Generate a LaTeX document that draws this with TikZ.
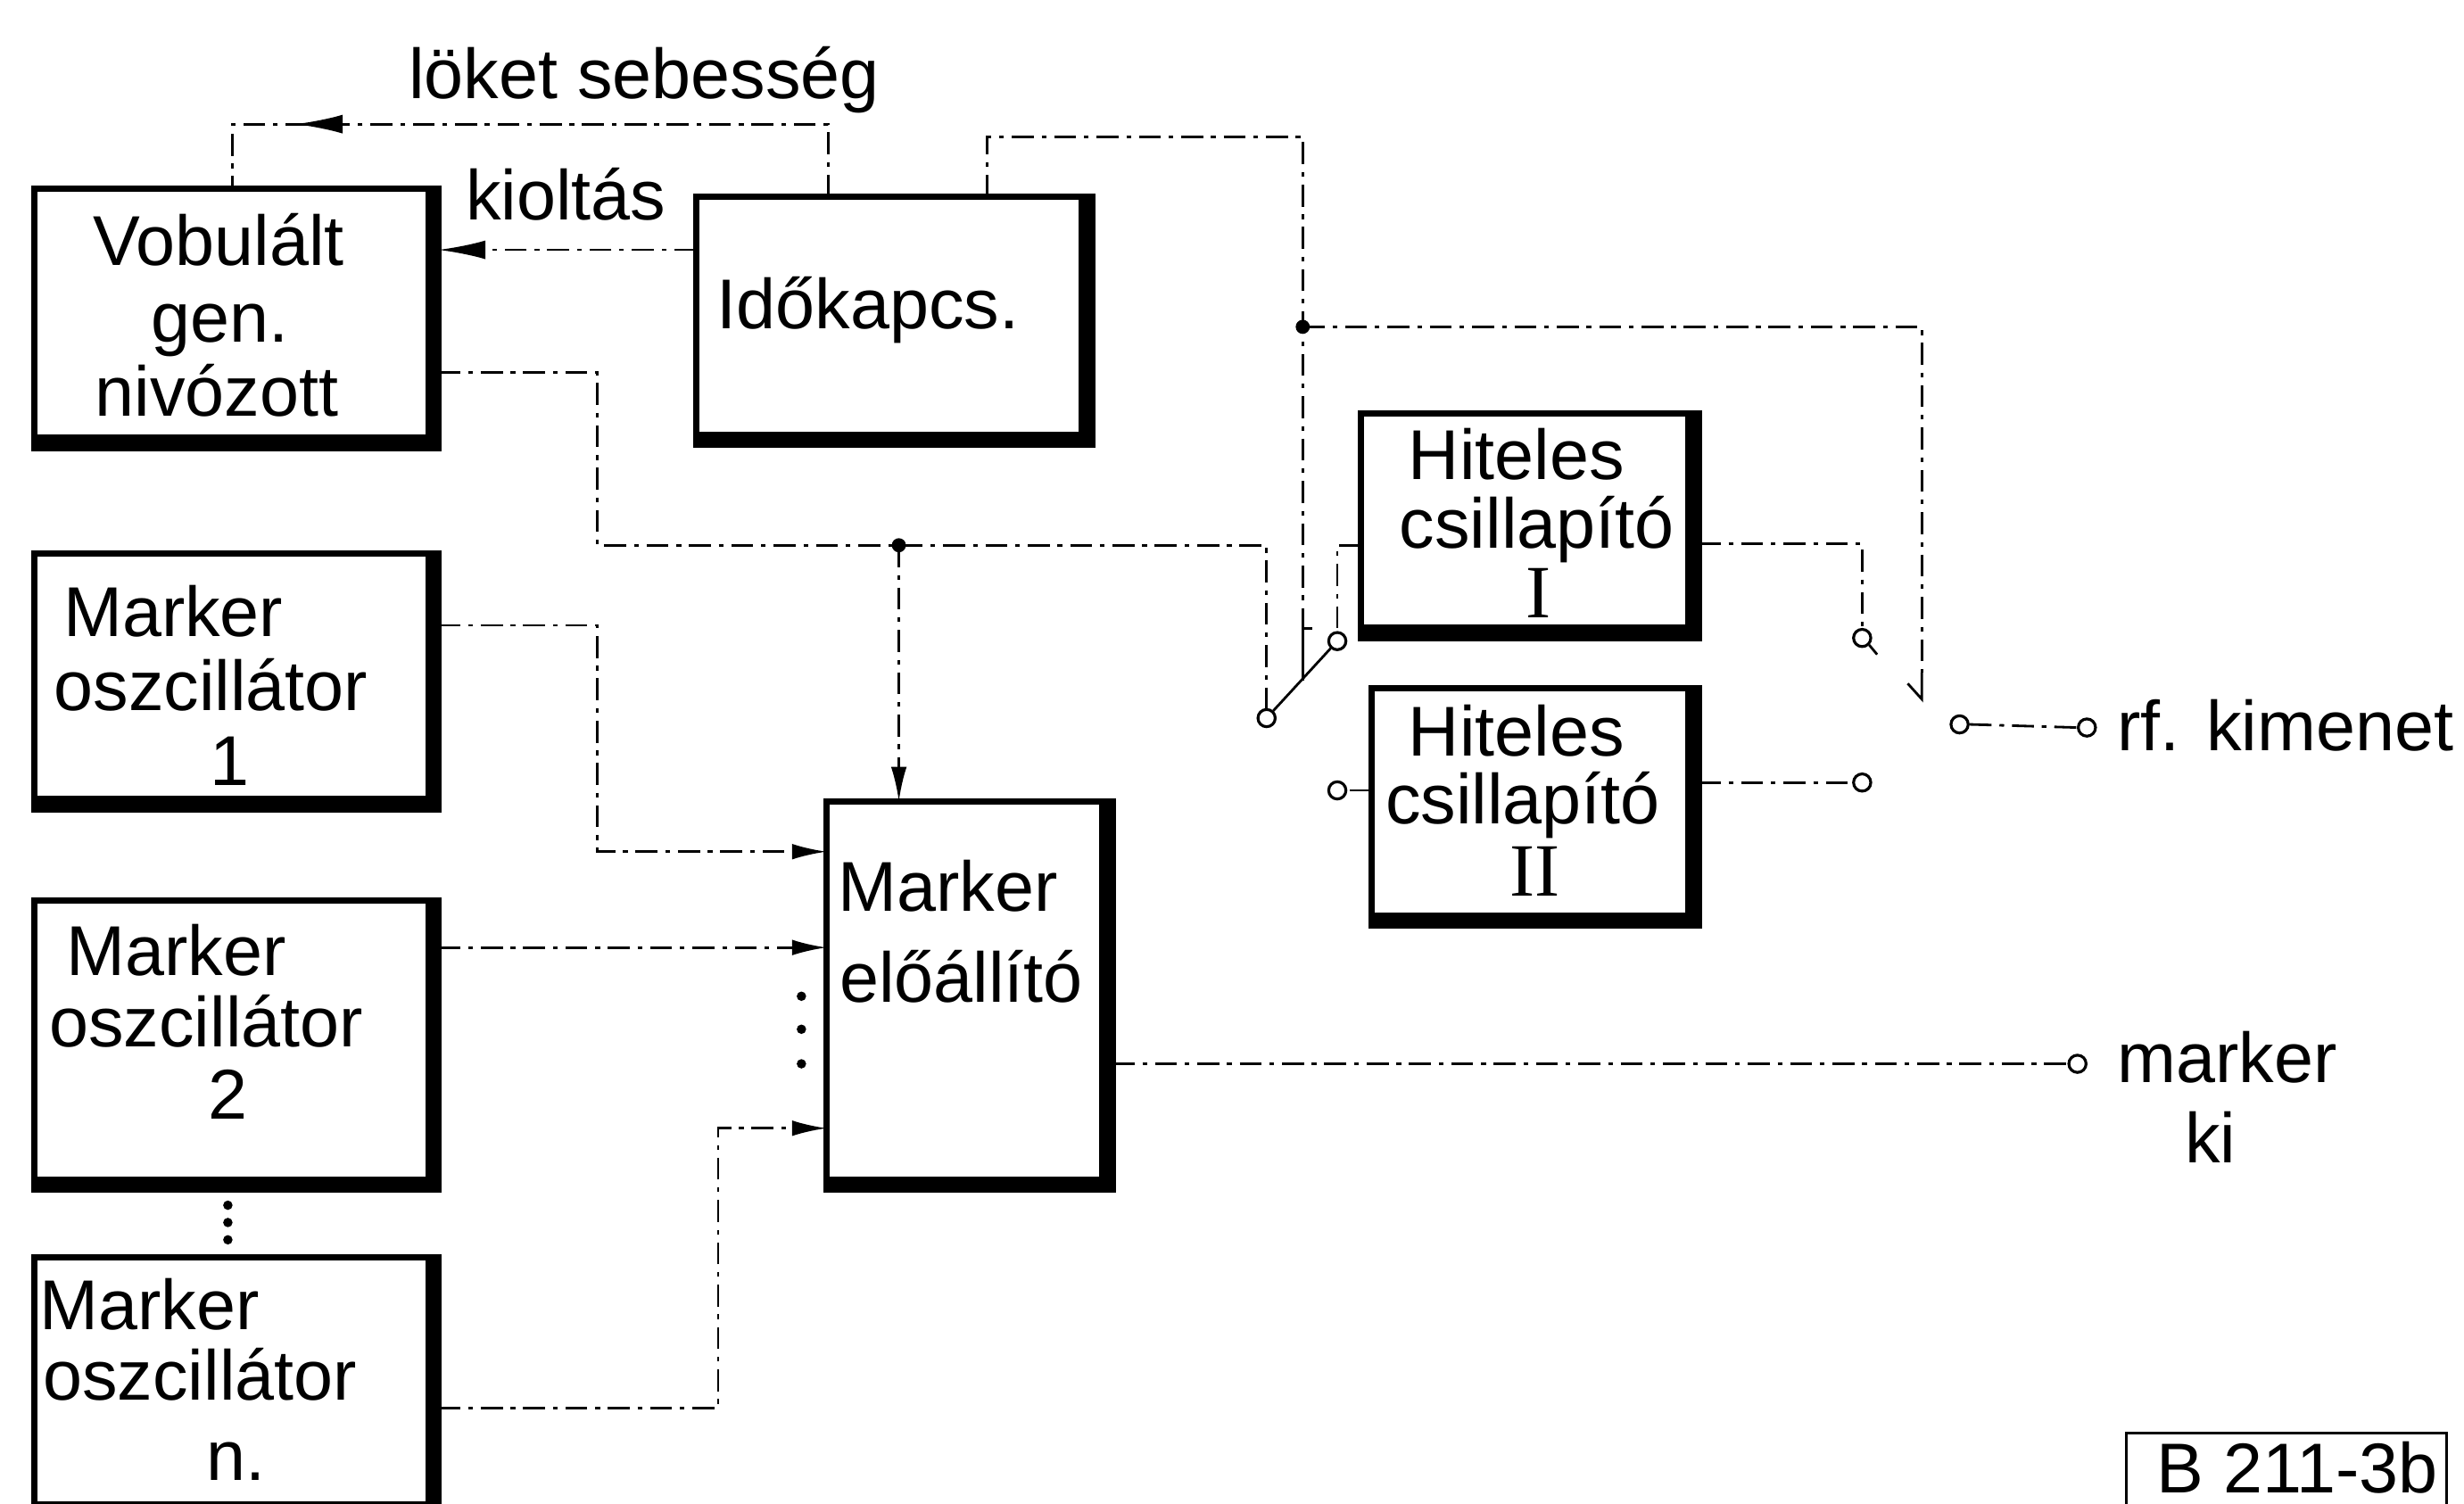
\documentclass[tikz,border=0pt]{standalone}
\usepackage{fontspec}
\setmainfont{Liberation Sans}
\newfontfamily\romfont{Liberation Serif}
\usetikzlibrary{arrows.meta,decorations.markings,fit}
\begin{document}
\begin{tikzpicture}[x=0.017615cm,y=-0.017615cm,
  blk/.style={draw,line width=2pt,rectangle,inner sep=0pt,outer sep=0pt,
    path picture={\draw[line width=8.5pt] (path picture bounding box.north east) -- (path picture bounding box.south east) -- (path picture bounding box.south west);}},
  txt/.style={font=\fontsize{22.5}{24}\selectfont,inner sep=0pt,anchor=base},
  txtl/.style={txt,anchor=base west},
  rom/.style={txt,font=\romfont\fontsize{24}{24}\selectfont},
  conn/.style={line width=0.8pt,dash pattern=on 7pt off 2.5pt on 1.5pt off 2.5pt},
  arr/.style={-{Latex[length=11pt,width=5pt]}},
  bigarr/.style={-{Latex[length=15pt,width=6pt]}},
  term/.style={circle,draw,line width=0.9pt,minimum size=5.5pt,inner sep=0pt,fill=white},
  jdot/.style={circle,fill,minimum size=4.5pt,inner sep=0pt},
  sdot/.style={circle,fill,minimum size=3pt,inner sep=0pt},
  solidln/.style={line width=0.8pt}
]
\fill[white] (0,0) rectangle (1568,957);
\useasboundingbox (0,0) rectangle (1568,957);

% boxes
\node[blk, fit={(22,120) (279,285)}] (vob) {};
\node[blk, fit={(443,125) (695,283)}] (ido) {};
\node[blk, fit={(22,352) (279,515)}] (mo1) {};
\node[blk, fit={(22,573) (279,757)}] (mo2) {};
\node[blk, fit={(22,800) (279,964)}] (mon) {};
\node[blk, fit={(526,510) (708,757)}] (me) {};
\node[blk, fit={(866,263) (1081,406)}] (h1) {};
\node[blk, fit={(873,438) (1081,589)}] (h2) {};

% box texts
\node[txt] (vobA) at (139,169) {Vobulált};
\node[txt] (vobB) at (140,218) {gen.};
\node[txt] (vobC) at (138,265) {nivózott};
\node[txtl] (idoA) at (456,209) {Időkapcs.};
\node[txtl] (mo1A) at (40,405) {Marker};
\node[txtl] (mo1B) at (34,452) {oszcillátor};
\node[txt] (mo1C) at (146,500) {1};
\node[txtl] (mo2A) at (42,621) {Marker};
\node[txtl] (mo2B) at (31,666) {oszcillátor};
\node[txt] (mo2C) at (145,712) {2};
\node[txtl] (monA) at (25,846) {Marker};
\node[txtl] (monB) at (27,891) {oszcillátor};
\node[txt] (monC) at (150,942) {n.};
\node[txtl] (meA) at (533,580) {Marker};
\node[txtl] (meB) at (534,638) {előállító};
\node[txt] (h1A) at (965,305) {Hiteles};
\node[txt] (h1B) at (978,349) {csillapító};
\node[rom] (h1C) at (979,393) {I};
\node[txt] (h2A) at (965,481) {Hiteles};
\node[txt] (h2B) at (969,524) {csillapító};
\node[rom] (h2C) at (977,570) {II};

% free labels
\node[txt] (lok) at (410,63) {löket sebesség};
\node[txt] (kio) at (360,140) {kioltás};

% junctions and contacts
\node[jdot] (j1) at (572,347) {};
\node[jdot] (j2) at (829,208) {};
\node[term] (cA) at (806,457) {};
\node[term] (cB) at (851,408) {};
\node[term] (cC) at (851,503) {};
\node[term] (cD) at (1185,406) {};
\node[term] (cE) at (1185,498) {};
\node[term] (cF) at (1247,461) {};
\node[term] (trf) at (1328,463) {};
\node[term] (tmk) at (1322,677) {};
\node[txtl] (rfk) at (1347,478) {rf. kimenet};
\node[txtl] (mkA) at (1347,689) {marker};
\node[txtl] (mkB) at (1390,740) {ki};

% kioltas
\draw[conn,bigarr] (ido.west |- 0,159) -- (vob.east |- 0,159);
% loket sebesseg
\draw[conn,postaction={decorate},decoration={markings,mark=at position 0.826 with {\arrow[solid]{Latex[length=15pt,width=6pt]}}}]
  (ido.north -| 527,0) |- (148,79) -- (vob.north -| 148,0);
% idokapcs to switches
\draw[conn] (ido.north -| 628,0) |- (829,87) -- (j2.center) -- (829,400);
\draw[solidln] (835,400) -- (829,400) -- (829,433);
\draw[conn] (j2.center) -| (1223,428);
\draw[solidln] (1223,428) -- (1223,445) -- (1214,435);
% vobulalt gen output
\draw[conn] (vob.east |- 0,237) -| (380,347) -- (j1.center) -- (cA.north |- 0,347) -- (cA.north);
\draw[conn,arr] (j1.center) -- (me.north -| j1);
% marker oscillators to marker eloallito
\draw[conn,arr] (mo1.east |- 0,398) -| (380,542) -- (me.west |- 0,542);
\draw[conn,arr] (mo2.east |- 0,603) -- (me.west |- 0,603);
\draw[conn,arr] (mon.east |- 0,896) -| (457,718) -- (me.west |- 0,718);
\draw[conn] (me.east |- 0,677) -- (tmk.west);
% dots
\node[sdot] (d1) at (510,634) {};
\node[sdot] (d2) at (510,655) {};
\node[sdot] (d3) at (510,677) {};
\node[sdot] (d4) at (145,767) {};
\node[sdot] (d5) at (145,778) {};
\node[sdot] (d6) at (145,789) {};
% attenuators
\draw[conn] (h1.west |- 0,347) -| (cB.north);
\draw[conn] (h2.west |- 0,503) -- (cC.east);
\draw[conn] (h1.east |- 0,346) -| (cD.north);
\draw[conn] (h2.east |- 0,498) -- (cE.west);
\draw[solidln] (cA) -- (cB);
\draw[solidln] (cD.south east) -- ++(5,6);
\draw[conn] (cF.east) -- (trf.west);
% drawing number
\node[txt,text depth=0pt] (bnum) at (1462,950) {B 211-3b};
\draw[line width=0.8pt] (1353,962) |- (1557,912) -- (1557,962);
\end{tikzpicture}
\end{document}
